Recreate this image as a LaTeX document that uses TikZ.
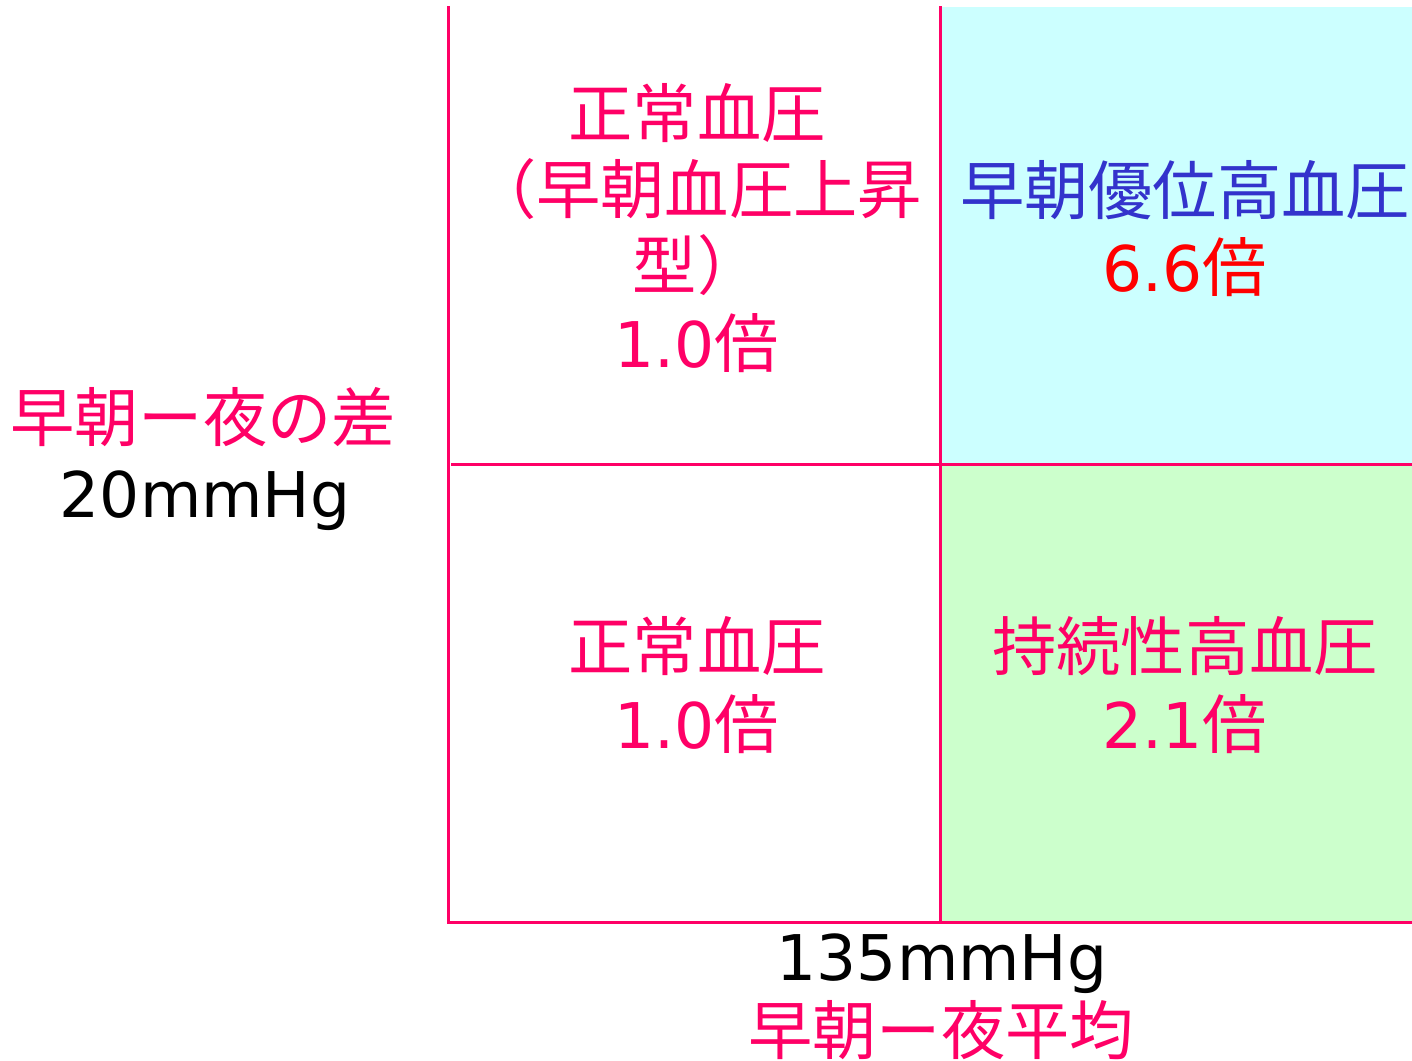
\documentclass[tikz,border=0pt]{standalone}
\usepackage{fontspec}
\setmainfont{DejaVu Sans}
\newfontfamily\jp[Scale=1.02]{Noto Sans CJK JP}
\definecolor{pinkc}{HTML}{FF0066}
\definecolor{bluec}{HTML}{3333CC}
\definecolor{redc}{HTML}{FF0000}
\definecolor{cyanfill}{HTML}{CCFFFF}
\definecolor{greenfill}{HTML}{CCFFCC}
\begin{document}
\begin{tikzpicture}[x=0.5pt,y=-0.5pt,
  lbl/.style={inner sep=0pt,anchor=base,font=\fontsize{31.5}{38}\selectfont},
  axisline/.style={draw=pinkc,line width=1.75pt},
  divline/.style={draw=pinkc,line width=1.2pt}]
\useasboundingbox (0,0) rectangle (1412,1060);
\fill[white] (0,0) rectangle (1412,1060);
% quadrant fills
\fill[cyanfill] (941,7) rectangle (1412,464.5);
\fill[greenfill] (941,464.5) rectangle (1412,922);
% dividers
\draw[divline] (940.5,6) -- (940.5,922);
\draw[divline] (451,464.5) -- (1412,464.5);
% axes
\draw[axisline] (448.5,6) -- (448.5,922.5) -- (1412,922.5);
% top-left quadrant
\node[lbl,text=pinkc] (tl1) at (697,137) {\jp 正常血圧};
\node[lbl,text=pinkc] (tl2) at (697,213) {\jp （早朝血圧上昇};
\node[lbl,text=pinkc] (tl3) at (697,289) {\jp 型）};
\node[lbl,text=pinkc] (tl4) at (697,367) {1.0{\jp 倍}};
% top-right quadrant
\node[lbl,text=bluec] (tr1) at (1185,214) {\jp 早朝優位高血圧};
\node[lbl,text=redc] (tr2) at (1185,291) {6.6{\jp 倍}};
% bottom-left quadrant
\node[lbl,text=pinkc] (bl1) at (697,670) {\jp 正常血圧};
\node[lbl,text=pinkc] (bl2) at (697,748) {1.0{\jp 倍}};
% bottom-right quadrant
\node[lbl,text=pinkc] (br1) at (1185,670) {\jp 持続性高血圧};
\node[lbl,text=pinkc] (br2) at (1185,748) {2.1{\jp 倍}};
% y-axis label
\node[lbl,text=pinkc] (ya1) at (203,441) {\jp 早朝ー夜の差};
\node[lbl,text=black] (ya2) at (205,517) {20mmHg};
% x-axis label
\node[lbl,text=black] (xa1) at (942,980) {135mmHg};
\node[lbl,text=pinkc] (xa2) at (941,1054) {\jp 早朝ー夜平均};
\end{tikzpicture}
\end{document}
